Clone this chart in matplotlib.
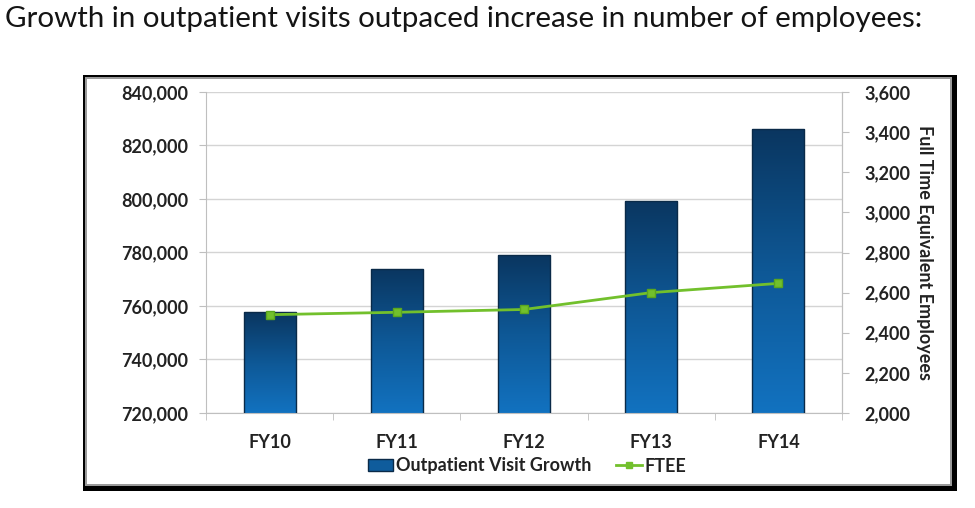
import numpy as np
from matplotlib import pyplot as plt
from matplotlib.patches import Rectangle, Patch
from matplotlib.lines import Line2D
from matplotlib.colors import LinearSegmentedColormap
from matplotlib.ticker import MultipleLocator, FixedLocator

# data
years = ["FY10", "FY11", "FY12", "FY13", "FY14"]
visits = [757600, 774000, 779000, 799300, 826000]
ftee = [2490, 2502, 2516, 2600, 2646]

W, H = 975, 508
FS = 13
plt.rcParams['font.family'] = ['Lato', 'DejaVu Sans']

fig = plt.figure(figsize=(W/100, H/100), dpi=100)

def px_box(x0, y0, x1, y1):
    # pixel coords (top-left origin) -> figure fraction rect
    return (x0/W, 1-y1/H), (x1-x0)/W, (y1-y0)/H

# chart frame (black border, gray inner line, white inside)
for (x0, y0, x1, y1), col in [((83, 75, 957, 491), 'black'),
                               ((85, 77, 952, 486), '#9a9a9a'),
                               ((87, 79, 950, 484), 'white')]:
    xy, w, h = px_box(x0, y0, x1, y1)
    fig.add_artist(Rectangle(xy, w, h, transform=fig.transFigure,
                             facecolor=col, edgecolor='none', zorder=-5))

xy, w, h = px_box(206, 92, 842, 413)
ax = fig.add_axes([xy[0], xy[1], w, h])
ax.patch.set_alpha(0)

x = np.arange(len(years))
bars = ax.bar(x, visits, width=0.41, color='none', edgecolor='#0a2a48',
              linewidth=1.0, zorder=3)

cmap = LinearSegmentedColormap.from_list('bl', ['#1272c0', '#0e5896', '#0a3660'])
grad = np.linspace(0, 1, 256).reshape(-1, 1)
for b in bars:
    im = ax.imshow(grad, cmap=cmap, origin='lower', aspect='auto',
                   extent=[b.get_x(), b.get_x()+b.get_width(), 720000, b.get_height()],
                   zorder=2)
    im.set_clip_path(b)

ax.set_xlim(-0.5, len(years)-0.5)
ax.set_ylim(720000, 840000)
ax.yaxis.set_major_locator(MultipleLocator(20000))
ax.yaxis.set_major_formatter('{x:,.0f}')
ax.grid(axis='y', color='#d4d4d4', linewidth=1.0, zorder=0)
ax.set_axisbelow(True)

ax.set_xticks(x)
ax.set_xticklabels(years)
ax.xaxis.set_minor_locator(FixedLocator(np.arange(-0.5, len(years), 1)))
ax.tick_params(axis='x', which='major', length=0, pad=15)
ax.tick_params(axis='x', which='minor', length=5, color='#bfbfbf', direction='out')
ax.tick_params(axis='y', length=5, color='#bfbfbf', pad=8)
ax.tick_params(labelsize=FS, labelcolor='#222222')

ax.spines['top'].set_visible(False)
for s in ['left', 'bottom', 'right']:
    ax.spines[s].set_color('#bfbfbf')

ax2 = ax.twinx()
ax2.plot(x, ftee, color='#72c02c', linewidth=2, marker='s', markersize=6,
         markerfacecolor='#72c02c', markeredgecolor='#5aa61f', zorder=5)
ax2.set_ylim(2000, 3600)
ax2.yaxis.set_major_locator(MultipleLocator(200))
ax2.yaxis.set_major_formatter('{x:,.0f}')
ax2.tick_params(axis='y', length=5, color='#bfbfbf', pad=11, labelsize=FS,
                labelcolor='#222222')
ax2.spines['top'].set_visible(False)
ax2.spines['right'].set_color('#bfbfbf')
ax2.spines['left'].set_visible(False)
ax2.spines['bottom'].set_visible(False)
ax2.set_ylabel("Full Time Equivalent Employees", rotation=-90, labelpad=16,
               fontsize=FS, fontweight='bold', color='#222222')

for lab in ax.get_xticklabels() + ax.get_yticklabels() + ax2.get_yticklabels():
    lab.set_fontweight('bold')

handles = [Patch(facecolor='#0f5c9c', edgecolor='#0a2a48'),
           Line2D([], [], color='#72c02c', linewidth=2, marker='s', markersize=5)]
leg = ax.legend(handles, ["Outpatient Visit Growth", "FTEE"], ncol=2,
                loc='center', bbox_to_anchor=(527/W, 1-466/H),
                bbox_transform=fig.transFigure, frameon=False,
                handlelength=1.4, handleheight=0.6, handletextpad=0.15,
                columnspacing=1.4, prop={'size': FS, 'weight': 'bold'})
for t in leg.get_texts():
    t.set_color('#222222')

title = fig.text(5/W, 1-27/H,
                 "Growth in outpatient visits outpaced increase in number of employees:",
                 fontsize=18, color='#141414', va='baseline', ha='left')
# scale title so it spans the same width as in the reference
fig.canvas.draw()
tw = title.get_window_extent().width
title.set_fontsize(18*913/tw)

fig.savefig("out.png", dpi=100)
